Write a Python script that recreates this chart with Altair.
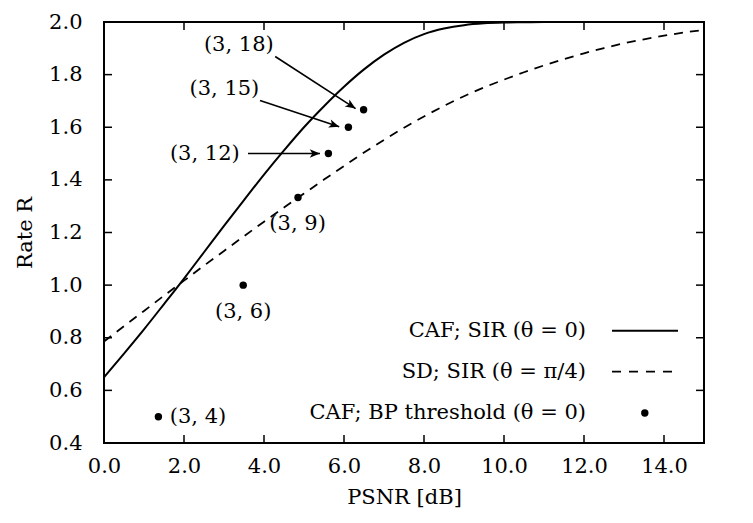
import math
import altair as alt
import pandas as pd

# ---------------- data ----------------
psnr = [0.0, 0.5, 1.0, 1.5, 2.0, 2.5, 3.0, 3.5, 4.0, 4.5, 5.0, 5.5, 6.0, 6.5, 7.0, 7.5,
        8.0, 8.5, 9.0, 9.5, 10.0, 10.5, 11.0, 11.5, 12.0, 12.5, 13.0, 13.5, 14.0, 14.5, 15.0]
caf_sir = [0.650, 0.740, 0.832, 0.928, 1.025, 1.125, 1.225, 1.323, 1.420, 1.512, 1.600,
           1.680, 1.754, 1.820, 1.876, 1.921, 1.954, 1.975, 1.988, 1.995, 1.998, 1.999,
           2.000, 2.000, 2.000, 2.000, 2.000, 2.000, 2.000, 2.000, 2.000]
sd_sir = [0.786, 0.844, 0.902, 0.960, 1.017, 1.074, 1.130, 1.186, 1.241, 1.295, 1.348,
          1.401, 1.453, 1.504, 1.552, 1.598, 1.641, 1.681, 1.718, 1.751, 1.781, 1.809,
          1.835, 1.859, 1.881, 1.901, 1.919, 1.934, 1.948, 1.960, 1.970]

bp_psnr = [1.36, 3.48, 4.85, 5.61, 6.11, 6.49]
bp_rate = [0.5, 1.0, 1.3333, 1.5, 1.6, 1.6667]
bp_names = ["(3, 4)", "(3, 6)", "(3, 9)", "(3, 12)", "(3, 15)", "(3, 18)"]

x_ticks = [0.0, 2.0, 4.0, 6.0, 8.0, 10.0, 12.0, 14.0]
y_ticks = [0.4, 0.6, 0.8, 1.0, 1.2, 1.4, 1.6, 1.8, 2.0]

legend_labels = ["CAF; SIR (θ = 0)", "SD; SIR (θ = π/4)", "CAF; BP threshold (θ = 0)"]

# ---------------- annotation placement ----------------
label_x = [2.35, 3.48, 4.84, 2.52, 3.01, 3.37]
label_y = [0.50, 0.899, 1.233, 1.50, 1.745, 1.913]

arrow_x0 = [3.60, 3.90, 4.28]
arrow_y0 = [1.500, 1.702, 1.869]
arrow_x1 = [5.40, 5.88, 6.29]
arrow_y1 = [1.500, 1.602, 1.671]

legend_text_x = 12.05
legend_line_x0, legend_line_x1 = 12.7, 14.35
legend_dot_x = 13.52
legend_y = [0.827, 0.671, 0.514]

# ---------------- layout ----------------
W, H = 600, 421
FONT = "DejaVu Serif"
FS = 21
TICK = 8

xs = alt.Scale(domain=[0, 15], nice=False, zero=False)
ys = alt.Scale(domain=[0.4, 2.0], nice=False, zero=False)

px_per_x = W / 15.0
px_per_y = H / 1.6

x_axis = alt.Axis(values=x_ticks, format=".1f", title="PSNR [dB]", ticks=False, grid=False,
                  domain=False, labelPadding=12, titlePadding=10, labelFontSize=FS,
                  titleFontSize=FS, labelFont=FONT, titleFont=FONT, labelColor="black",
                  titleColor="black", titleFontWeight="normal", labelFlush=False,
                  labelOverlap=False)
y_axis = alt.Axis(values=y_ticks, format=".1f", title="Rate R", ticks=False, grid=False,
                  domain=False, labelPadding=22, titlePadding=13, labelFontSize=FS,
                  titleFontSize=FS, labelFont=FONT, titleFont=FONT, labelColor="black",
                  titleColor="black", titleFontWeight="normal", labelFlush=False,
                  labelOverlap=False)


def X(field):
    return alt.X(field, type="quantitative", scale=xs, axis=x_axis)


def Y(field):
    return alt.Y(field, type="quantitative", scale=ys, axis=y_axis)


df_caf = pd.DataFrame({"psnr": psnr, "rate": caf_sir})
df_sd = pd.DataFrame({"psnr": psnr, "rate": sd_sir})
df_bp = pd.DataFrame({"psnr": bp_psnr, "rate": bp_rate})
df_lab = pd.DataFrame({"psnr": label_x, "rate": label_y, "t": bp_names})

angles = []
for a, b, c, d in zip(arrow_x0, arrow_y0, arrow_x1, arrow_y1):
    dx = (c - a) * px_per_x
    dy = -(d - b) * px_per_y
    angles.append(math.degrees(math.atan2(dy, dx)) % 360)
df_arr = pd.DataFrame({"psnr": arrow_x0, "rate": arrow_y0, "x1": arrow_x1, "y1": arrow_y1})
df_head = pd.DataFrame({"psnr": arrow_x1, "rate": arrow_y1, "ang": angles})

solid = alt.Chart(df_caf).mark_line(color="black", strokeWidth=2, clip=True,
                                    interpolate="monotone").encode(x=X("psnr"), y=Y("rate"))
dashed = alt.Chart(df_sd).mark_line(color="black", strokeWidth=1.8, strokeDash=[9, 7], clip=True,
                                    interpolate="monotone").encode(x=X("psnr"), y=Y("rate"))
points = alt.Chart(df_bp).mark_circle(color="black", size=55, opacity=1).encode(
    x=X("psnr"), y=Y("rate"))
labels = alt.Chart(df_lab).mark_text(font=FONT, fontSize=FS, color="black", align="center",
                                     baseline="middle").encode(x=X("psnr"), y=Y("rate"), text="t:N")
arrow_lines = alt.Chart(df_arr).mark_rule(color="black", strokeWidth=1.6).encode(
    x=X("psnr"), y=Y("rate"), x2="x1:Q", y2="y1:Q")
ARROW = "M 0 0 L -1 -0.42 L -0.75 0 L -1 0.42 Z"
arrow_heads = alt.Chart(df_head).mark_point(shape=ARROW, filled=True, size=420, color="black",
                                            opacity=1, strokeWidth=0).encode(
    x=X("psnr"), y=Y("rate"), angle=alt.Angle("ang:Q", scale=None))

# legend drawn inside the plot (label left of its sample)
df_leg = pd.DataFrame({"psnr": [legend_text_x] * 3, "rate": legend_y, "t": legend_labels})
leg_text = alt.Chart(df_leg).mark_text(font=FONT, fontSize=FS, color="black", align="right",
                                       baseline="middle").encode(x=X("psnr"), y=Y("rate"), text="t:N")
df_leg_solid = pd.DataFrame({"psnr": [legend_line_x0], "x1": [legend_line_x1], "rate": [legend_y[0]]})
df_leg_dash = pd.DataFrame({"psnr": [legend_line_x0], "x1": [legend_line_x1], "rate": [legend_y[1]]})
df_leg_dot = pd.DataFrame({"psnr": [legend_dot_x], "rate": [legend_y[2]]})
leg_solid = alt.Chart(df_leg_solid).mark_rule(color="black", strokeWidth=2).encode(
    x=X("psnr"), x2="x1:Q", y=Y("rate"))
leg_dash = alt.Chart(df_leg_dash).mark_rule(color="black", strokeWidth=1.8, strokeDash=[9, 8]).encode(
    x=X("psnr"), x2="x1:Q", y=Y("rate"))
leg_dot = alt.Chart(df_leg_dot).mark_circle(color="black", size=55, opacity=1).encode(
    x=X("psnr"), y=Y("rate"))

# inward ticks on all four sides
df_xt = pd.DataFrame({"psnr": x_ticks})
df_yt = pd.DataFrame({"rate": y_ticks})
xt_bottom = alt.Chart(df_xt).mark_rule(color="black", strokeWidth=1.5).encode(
    x=X("psnr"), y=alt.value(H), y2=alt.value(H - TICK))
xt_top = alt.Chart(df_xt).mark_rule(color="black", strokeWidth=1.5).encode(
    x=X("psnr"), y=alt.value(0), y2=alt.value(TICK))
yt_left = alt.Chart(df_yt).mark_rule(color="black", strokeWidth=1.5).encode(
    y=Y("rate"), x=alt.value(0), x2=alt.value(TICK))
yt_right = alt.Chart(df_yt).mark_rule(color="black", strokeWidth=1.5).encode(
    y=Y("rate"), x=alt.value(W - TICK), x2=alt.value(W))

chart = alt.layer(
    solid, dashed, arrow_lines, arrow_heads, points, labels,
    leg_text, leg_solid, leg_dash, leg_dot,
    xt_bottom, xt_top, yt_left, yt_right,
).properties(
    width=W, height=H,
    padding={"left": 104, "top": 22, "right": 49, "bottom": 80},
    autosize=alt.AutoSizeParams(type="none"),
    background="white",
).configure_view(stroke="black", strokeWidth=2)

chart.save("out.html", embed_options={"renderer": "svg", "actions": False})
